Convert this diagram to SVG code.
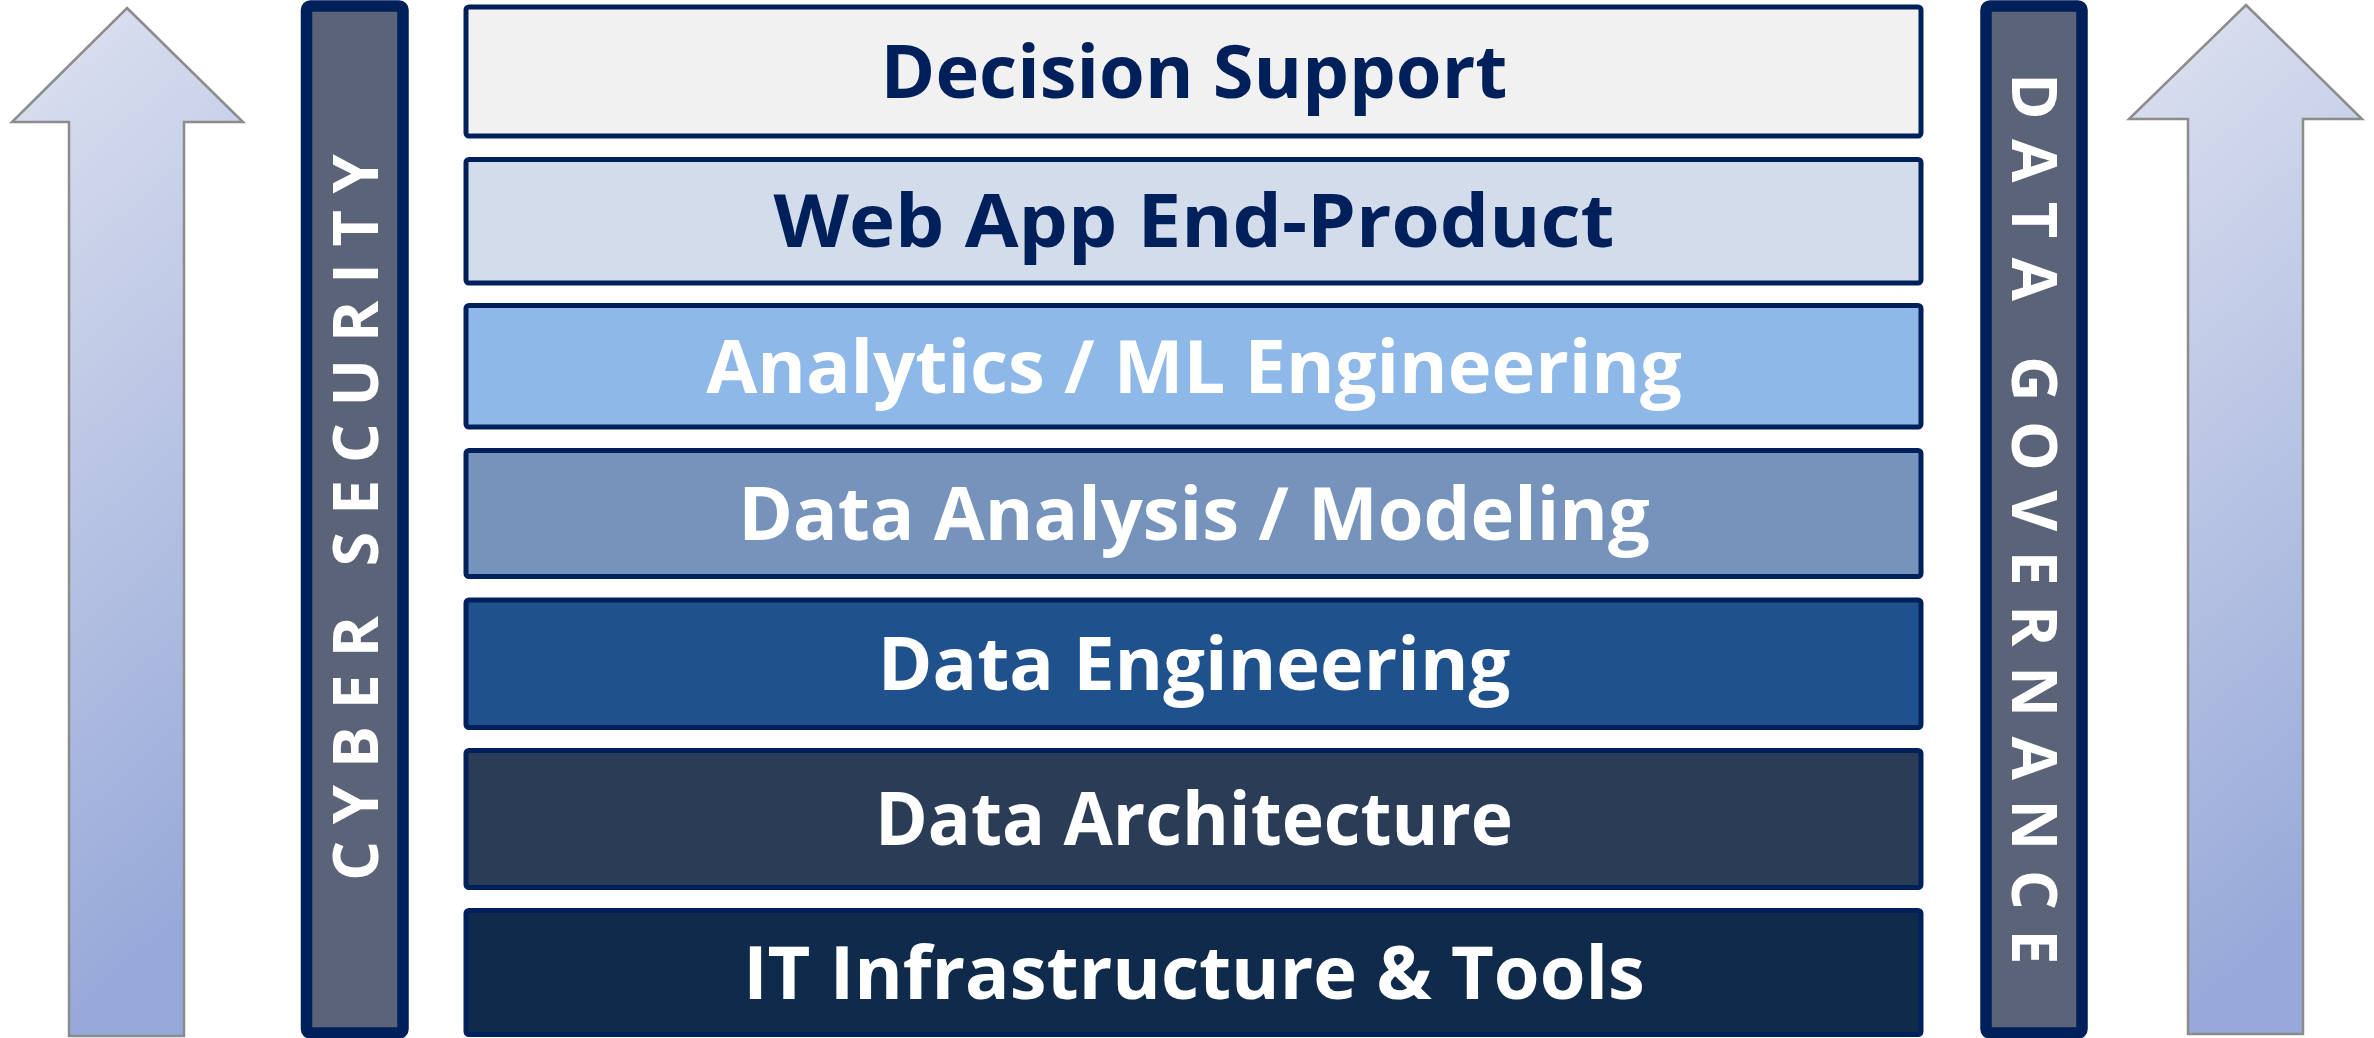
<svg xmlns="http://www.w3.org/2000/svg" width="2374" height="1038" viewBox="0 0 2374 1038">
  <defs>
    <linearGradient id="arrowGrad" x1="0" y1="0" x2="0.2" y2="1">
      <stop offset="0" stop-color="#DEE2F0"/>
      <stop offset="1" stop-color="#97A9D9"/>
    </linearGradient>
    <style>
      .arrow { fill: url(#arrowGrad); stroke: #8C8C8C; stroke-width: 2.5; }
      .bar { fill: #5B6378; stroke: #00205B; stroke-width: 11.5; }
      .layer { stroke: #00205B; stroke-width: 5; }
      .lbl { font-family: "Open Sans", "Noto Sans", "Liberation Sans", sans-serif; font-weight: 700; font-size: 74px; text-anchor: middle; }
      .dark { fill: #00205B; }
      .light { fill: #FFFFFF; }
      .vert { font-family: "Open Sans", "Noto Sans", "Liberation Sans", sans-serif; font-weight: 700; font-size: 63px; fill: #FFFFFF; }
    </style>
  </defs>
  <rect width="2374" height="1038" fill="#FFFFFF"/>

  <g id="arrow-left">
    <polygon class="arrow" points="127,8 243,122 184,122 184,1036 69,1036 69,122 12,122"/>
  </g>
  <g id="arrow-right">
    <polygon class="arrow" points="2246,5 2362,119 2303,119 2303,1034 2188,1034 2188,119 2129,119"/>
  </g>

  <g id="cyber-security">
    <rect class="bar" x="306.5" y="6" width="96.5" height="1027" rx="4"/>
    <text class="vert" letter-spacing="16.6" transform="translate(378,881) rotate(-90)">CYBER SECURITY</text>
  </g>
  <g id="data-governance">
    <rect class="bar" x="1986" y="6" width="96" height="1027" rx="4"/>
    <text class="vert" letter-spacing="19.3" transform="translate(2012,73) rotate(90)">DATA GOVERNANCE</text>
  </g>

  <g id="decision-support">
    <rect class="layer" x="466" y="7" width="1455" height="129" rx="3" fill="#F1F1F1"/>
    <text class="lbl dark" x="1194" y="98">Decision Support</text>
  </g>
  <g id="web-app">
    <rect class="layer" x="466" y="159.5" width="1455" height="123.5" rx="3" fill="#D2DCEA"/>
    <text class="lbl dark" x="1194" y="247" textLength="841" lengthAdjust="spacingAndGlyphs">Web App End-Product</text>
  </g>
  <g id="analytics-ml">
    <rect class="layer" x="466" y="305.5" width="1455" height="121.5" rx="3" fill="#8DB8E8"/>
    <text class="lbl light" x="1194" y="393">Analytics / ML Engineering</text>
  </g>
  <g id="data-analysis">
    <rect class="layer" x="466" y="450.5" width="1455" height="126" rx="3" fill="#7693BB"/>
    <text class="lbl light" x="1194" y="540">Data Analysis / Modeling</text>
  </g>
  <g id="data-engineering">
    <rect class="layer" x="466" y="600" width="1455" height="127.5" rx="3" fill="#1F528C"/>
    <text class="lbl light" x="1194" y="690">Data Engineering</text>
  </g>
  <g id="data-architecture">
    <rect class="layer" x="466" y="750.5" width="1455" height="137" rx="3" fill="#2A3C56"/>
    <text class="lbl light" x="1194" y="845" textLength="638" lengthAdjust="spacingAndGlyphs">Data Architecture</text>
  </g>
  <g id="it-infrastructure">
    <rect class="layer" x="466" y="910.5" width="1455" height="124" rx="3" fill="#0F2A4A"/>
    <text class="lbl light" x="1194" y="999">IT Infrastructure &amp; Tools</text>
  </g>

  <g id="connectors"/>
</svg>
